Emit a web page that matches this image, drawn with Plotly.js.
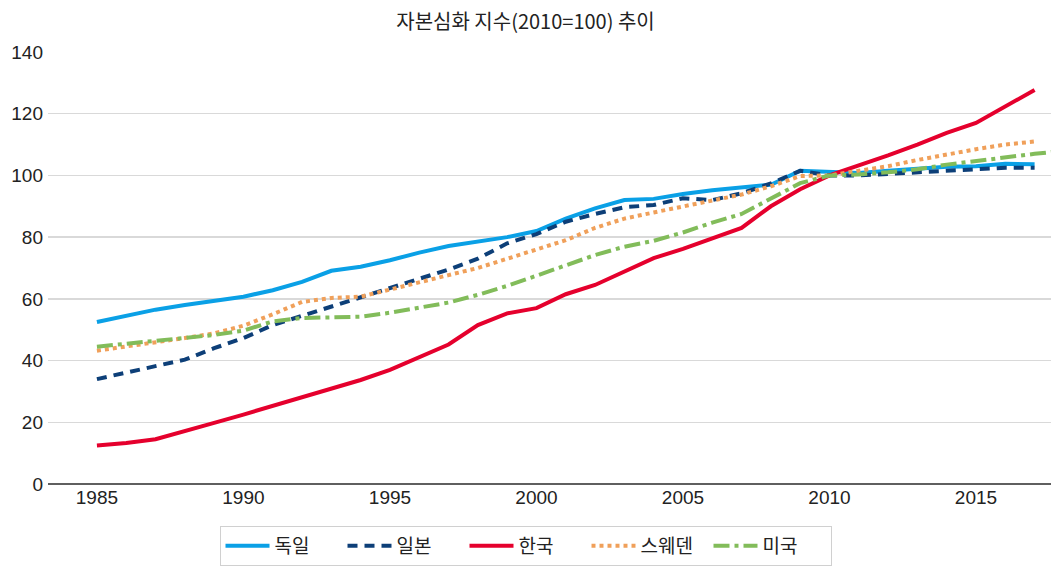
<!DOCTYPE html>
<html>
<head>
<meta charset="utf-8">
<script src="https://cdn.plot.ly/plotly-3.0.1.min.js"></script>
<style>
html,body{margin:0;padding:0;background:#fff;}
#chart{width:1051px;height:568px;}
</style>
</head>
<body>
<div id="chart"></div>
<script>
// Data
const years = [1985,1986,1987,1988,1989,1990,1991,1992,1993,1994,1995,1996,1997,1998,1999,2000,2001,2002,2003,2004,2005,2006,2007,2008,2009,2010,2011,2012,2013,2014,2015,2016,2017];
const yearsUS = [1985,1986,1987,1988,1989,1990,1991,1992,1993,1994,1995,1996,1997,1998,1999,2000,2001,2002,2003,2004,2005,2006,2007,2008,2009,2010,2011,2012,2013,2014,2015,2016,2017,2018];

const germany = [52.5,54.5,56.5,58,59.5,60.7,62.8,65.5,69.1,70.4,72.5,75,77.1,78.5,80,82,86,89.3,92,92.4,94,95.2,96.2,97,101.5,101,100.8,101.5,102.2,102.8,103,103.8,103.6];
const japan   = [34,36,38,40.3,44,47.3,51.5,54.5,57.5,60.5,63.5,66.5,69.5,73,78,81,85,87.5,89.7,90.4,92.6,92,94.2,97.4,101.5,100,100,100.5,101,101.5,102.3,102.5,102.5];
const korea   = [12.5,13.3,14.5,17,19.8,22.5,25.3,28.2,31,33.7,37,41,45.2,51.5,55.3,57,61.5,64.5,69,73.2,76.2,79.5,83,90,95.5,100,103.2,106.5,110,113.8,117,122.3,127.7];
const sweden  = [43.2,44.5,46,47.3,48.8,51.3,55,59,60.3,60.7,63,65.5,67.7,70,73,76,79,83,86,88,90,92,93.8,96.5,99.8,100,101.5,103,105,106.8,108.5,110,111];
const usa     = [44.5,45.5,46.3,47.2,48.3,49.7,52.7,53.8,54,54.2,55.5,57,58.8,61.3,64.2,67.5,71,74.2,76.9,78.8,81.5,84.7,87.5,92.5,97.5,100,100.3,101,102,103.5,104.7,106,107,108];

const seriesNames = ['독일','일본','한국','스웨덴','미국'];
const titleText = '자본심화 지수(2010=100) 추이';
const xTicks = [1985,1990,1995,2000,2005,2010,2015];
const yTicks = [0,20,40,60,80,100,120,140];

const traces = [
  {x: years, y: germany, name: seriesNames[0], mode:'lines', line:{color:'#0aa0e6', width:4, dash:'solid'}},
  {x: years, y: japan, name: seriesNames[1], mode:'lines', line:{color:'#0d3f78', width:4, dash:'10px,7px'}},
  {x: years, y: korea, name: seriesNames[2], mode:'lines', line:{color:'#e5002d', width:4, dash:'solid'}},
  {x: years, y: sweden, name: seriesNames[3], mode:'lines', line:{color:'#f0a05a', width:4, dash:'4px,4px'}},
  {x: yearsUS, y: usa, name: seriesNames[4], mode:'lines', line:{color:'#82bc5a', width:4, dash:'16px,5px,4px,5px'}}
];

const layout = {
  width:1051, height:568,
  margin:{l:48, r:0, t:52, b:84},
  paper_bgcolor:'#fff', plot_bgcolor:'#fff',
  font:{family:'Liberation Sans, Arial, sans-serif', color:'#222', size:19},
  title:{text:titleText, x:0.5, xref:'container', xanchor:'center', y:0.962, yanchor:'middle',
         font:{family:'Noto Sans CJK KR, sans-serif', size:20, color:'#222'}},
  xaxis:{range:[1983.33, 2017.56], tickvals:xTicks, ticktext:xTicks.map(String), showgrid:false,
         zeroline:false, showline:false, ticks:'', tickfont:{size:19, color:'#222'}},
  yaxis:{range:[0,140], tickvals:yTicks, showgrid:true, gridcolor:'#d9d9d9', gridwidth:1.5,
         zeroline:true, zerolinecolor:'#5f5f5f', zerolinewidth:1.5, showline:false, ticks:'',
         ticklabelstandoff:4, tickfont:{size:19, color:'#222'}},
  showlegend:true,
  legend:{orientation:'h', xref:'container', yref:'container', x:0.5, xanchor:'center', y:0.074, yanchor:'top',
          bordercolor:'#d0d0d0', borderwidth:1, bgcolor:'#fff', entrywidth:63, entrywidthmode:'pixels',
          font:{family:'Noto Sans CJK KR, sans-serif', size:19, color:'#222'}, itemwidth:44, traceorder:'normal'}
};

Plotly.newPlot('chart', traces, layout, {displayModeBar:false, staticPlot:true});
</script>
</body>
</html>
